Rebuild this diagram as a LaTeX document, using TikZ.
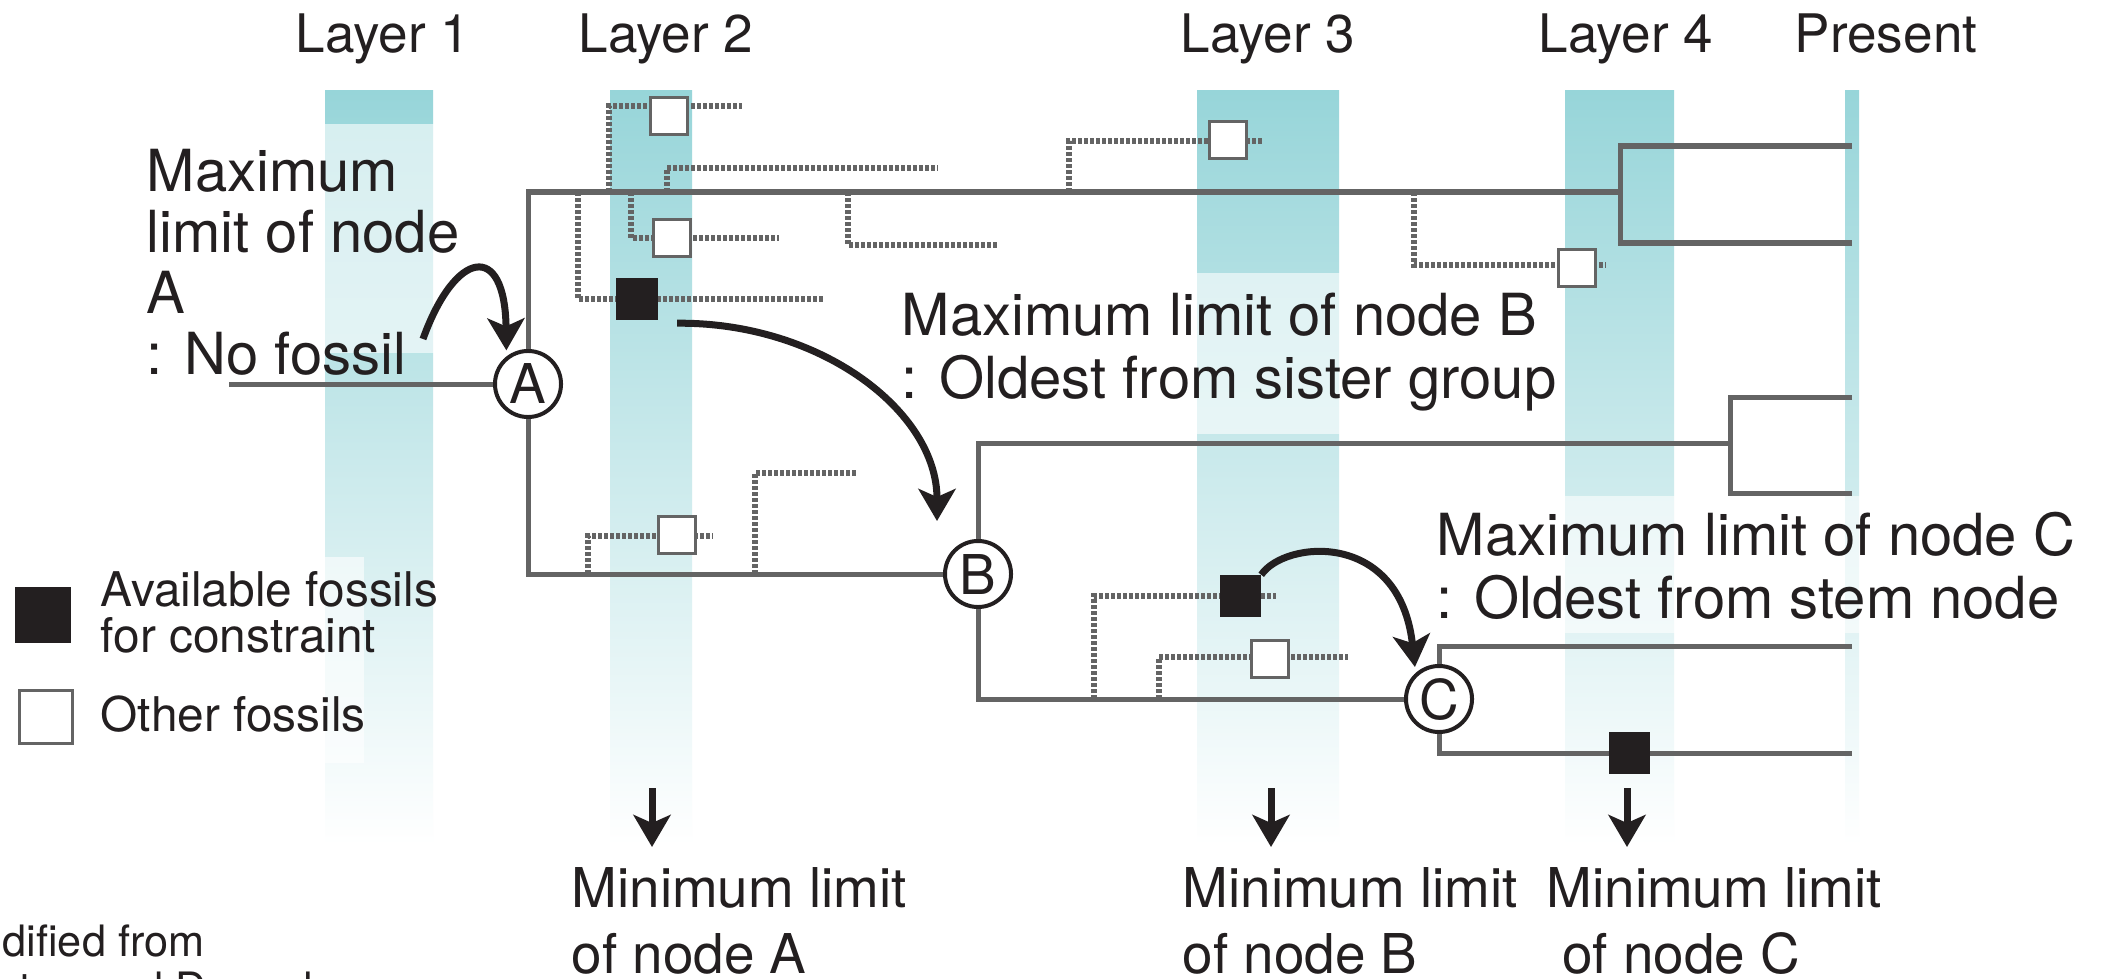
\documentclass[tikz,border=0pt]{standalone}
\usepackage{fontspec}
\setmainfont{TeX Gyre Heros}
\usetikzlibrary{arrows.meta, positioning}
\definecolor{bandteal}{RGB}{151,213,217}
\definecolor{treegray}{RGB}{100,100,100}
\definecolor{inkblack}{RGB}{35,31,32}
\tikzset{
    band/.style={top color=bandteal, bottom color=white, draw=none},
    veil/.style={fill=white, fill opacity=0.6, draw=none},
    branch/.style={draw=treegray, line width=0.05cm},
    lineage/.style={draw=treegray, line width=0.055cm, dash pattern=on 0.036cm off 0.024cm},
    fossil/.style={draw=treegray, fill=white, line width=0.03cm, minimum size=0.37cm, inner sep=0pt},
    keyfossil/.style={fill=inkblack, minimum size=0.41cm, inner sep=0pt},
    clade/.style={draw=inkblack, circle, fill=white, line width=0.04cm, minimum size=0.66cm, inner sep=0pt, font=\fontsize{15.6}{18}\selectfont},
    pointer/.style={draw=inkblack, line width=0.07cm, -{Stealth[length=0.32cm, width=0.37cm, inset=0.08cm]}},
    layerlabel/.style={anchor=base, inner sep=0pt, font=\fontsize{15.1}{18}\selectfont},
    maxlabel/.style={anchor=base west, align=left, inner sep=0pt, font=\fontsize{16.5}{17.8}\selectfont},
    minlabel/.style={anchor=base west, align=left, inner sep=0pt, font=\fontsize{15.6}{18.5}\selectfont},
    keylabel/.style={anchor=base west, align=left, inner sep=0pt, font=\fontsize{13.6}{12.8}\selectfont},
    creditlabel/.style={anchor=base west, align=left, inner sep=0pt, font=\fontsize{12.3}{13.1}\selectfont}
}

\begin{document}
\begin{tikzpicture}[x=0.01cm, y=-0.01cm, color=inkblack]
    \useasboundingbox (0,0) rectangle (2103,979);
    \clip (0,0) rectangle (2103,979);
    \fill[white] (0,0) rectangle (2103,979);

    % time layers
    \foreach \xl/\xr in {325/433, 610/692, 1197/1339, 1565/1674, 1845/1859}
        \path[band] (\xl,91) rectangle (\xr,845);
    \fill[veil] (300,124) rectangle (445,353);
    \fill[veil] (1190,273) rectangle (1345,434);
    \fill[veil] (1560,496) rectangle (1865,633);
    \fill[veil] (300,557) rectangle (364,763);

    \foreach \x/\t [count=\i] in {383/Layer 1, 666/Layer 2, 1268/Layer 3, 1626/Layer 4, 1886/Present}
        \node[layerlabel] (lay\i) at (\x,53) {\t};

    % fossil lineages: base x / base y / tip y / end x
    \foreach \bx/\by/\ty/\ex [count=\i] in {609/192/106/742, 667/192/168/938, 631/192/238/779,
        578/192/299/823, 848/192/245/997, 1069/192/141/1264, 1414/192/265/1606,
        588/574/536/713, 755/574/473/857, 1094/699/596/1276, 1159/699/657/1348}
    {
        \coordinate (ls\i) at (\bx,\by);
        \coordinate (le\i) at (\ex,\ty);
        \draw[lineage] (ls\i) |- (le\i);
    }

    % tree
    \node[clade] (A) at (528,384) {A};
    \node[clade] (B) at (978,574) {B};
    \node[clade] (C) at (1439,699) {C};
    \coordinate (root) at (229,384);
    \coordinate (n1) at (1620,192);
    \coordinate (n2) at (1730,443);
    \coordinate (t1) at (1852,146);
    \coordinate (t2) at (1852,243);
    \coordinate (t3) at (1852,397);
    \coordinate (t4) at (1852,493);
    \coordinate (t5) at (1852,646);
    \coordinate (t6) at (1852,753);

    \draw[branch] (root) -- (A);
    \draw[branch] (A) |- (n1);
    \draw[branch] (t1) -| (n1) |- (t2);
    \draw[branch] (A) |- (B);
    \draw[branch] (B) |- (n2);
    \draw[branch] (t3) -| (n2) |- (t4);
    \draw[branch] (B) |- (C);
    \draw[branch] (t5) -| (C) |- (t6);

    \node[fossil] (f1) at (669,116) {};
    \node[fossil] (f2) at (672,238) {};
    \node[keyfossil] (f3) at (637,299) {};
    \node[fossil] (f4) at (1228,140) {};
    \node[fossil] (f5) at (1577,268) {};
    \node[fossil] (f6) at (677,535) {};
    \node[keyfossil] (f7) at (1240,596) {};
    \node[fossil] (f8) at (1270,659) {};
    \node[keyfossil] (f9) at (1629,753) {};

    % limits
    \coordinate (srcA) at (423,339);
    \coordinate (tipB) at (937,521);
    \draw[pointer, shorten >=0.06cm] (srcA) .. controls (455,250) and (505,240) .. (A.128);
    \draw[pointer] ([xshift=0.19cm, yshift=-0.03cm]f3.south east) .. controls (820,322) and (937,411) .. (tipB);
    \draw[pointer, shorten >=0.06cm] (f7.north east) .. controls (1285,540) and (1400,530) .. (C.132);
    \foreach \x [count=\i] in {652, 1271, 1627}
    {
        \coordinate (drop\i) at (\x,788);
        \draw[pointer] (drop\i) -- ++(0,59);
    }

    \node[maxlabel, font=\fontsize{16.5}{17.3}\selectfont] (maxA) at (146,374) {Maximum\\limit of node\\A\\: No fossil};
    \node[maxlabel] (maxB) at (901,398) {Maximum limit of node B\\: Oldest from sister group};
    \node[maxlabel] (maxC) at (1436,618) {Maximum limit of node C\\: Oldest from stem node};
    \node[minlabel] (minA) at (571,973) {Minimum limit\\of node A};
    \node[minlabel] (minB) at (1182,973) {Minimum limit\\of node B};
    \node[minlabel] (minC) at (1546,973) {Minimum limit\\\hspace*{0.28em}of node C};

    % legend
    \node[keyfossil, minimum size=0.565cm] (kblack) at (43,615) {};
    \node[fossil, minimum size=0.53cm, line width=0.03cm] (kwhite) at (46,717) {};
    \node[keylabel] (kbtext) at (100,652) {Available fossils\\for constraint};
    \node[keylabel] (kwtext) at (100,731) {Other fossils};
    \node[creditlabel] (credit) at (2,1003) {dified from\\\hspace*{-0.07cm}nton and Donoghue};
\end{tikzpicture}
\end{document}
